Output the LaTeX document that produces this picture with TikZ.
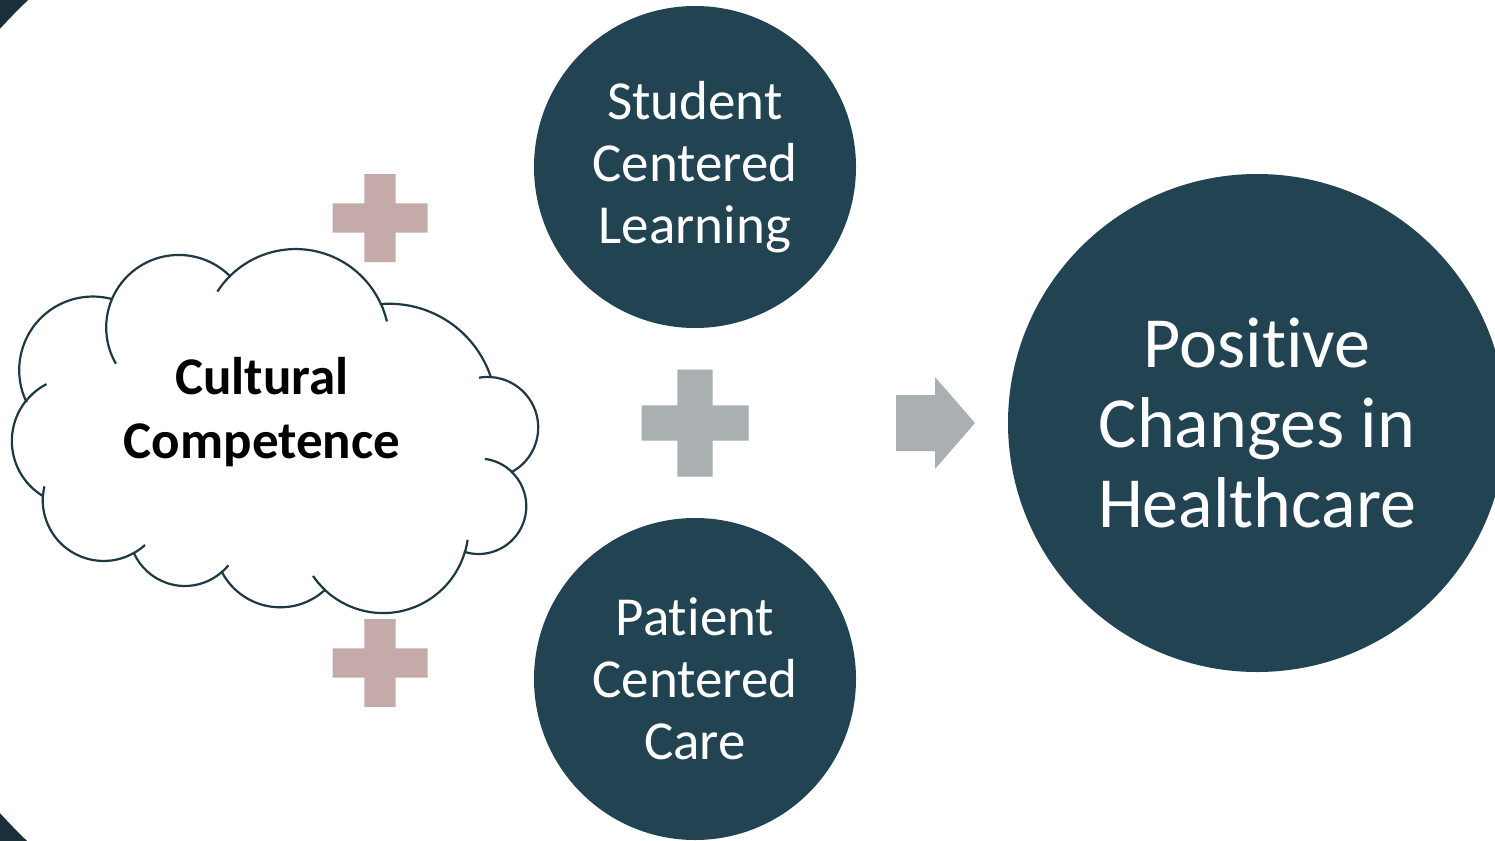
\documentclass[tikz,border=0pt]{standalone}
\usepackage{fontspec}
\setmainfont{Carlito}[Ligatures=NoCommon]
\usepackage{tikz}
\definecolor{ccteal}{RGB}{34,68,82}
\definecolor{ccframe}{RGB}{27,47,58}
\definecolor{ccline}{RGB}{30,56,68}
\definecolor{ccrose}{RGB}{196,171,170}
\definecolor{ccgrey}{RGB}{170,175,177}
\tikzset{
  bubble/.style    ={circle,fill=ccteal,text=white,align=center,inner sep=0pt},
  midbubble/.style ={bubble,minimum size=322pt,font=\fontsize{55}{62}\selectfont},
  bigbubble/.style ={bubble,minimum size=498pt,font=\fontsize{72}{80}\selectfont},
  cloudtext/.style ={align=center,font=\bfseries\fontsize{53}{64}\selectfont},
  cloudline/.style ={draw=ccline,line width=2.2pt},
  blockarrow/.style={fill=ccgrey},
  pics/crossmark/.style={code={
    \fill[pic actions] (-0.5,-0.165) -- (-0.165,-0.165) -- (-0.165,-0.5) -- (0.165,-0.5)
      -- (0.165,-0.165) -- (0.5,-0.165) -- (0.5,0.165) -- (0.165,0.165) -- (0.165,0.5)
      -- (-0.165,0.5) -- (-0.165,0.165) -- (-0.5,0.165) -- cycle;}},
}

\begin{document}
\begin{tikzpicture}[x=1pt,y=1pt]
  \useasboundingbox (0,0) rectangle (1495,-840);
  \fill[white] (0,0) rectangle (1495,-840);
  \clip (0,0) rectangle (1495,-840);

  % ---- frame piece on the left edge -------------------------------------
  \draw[ccframe,line width=20pt] ([shift={(125:592)}]430,-421)
    arc[start angle=125,end angle=235,radius=592];

  % ---- cloud: eleven puffs, clockwise from the left ---------------------
  \path[cloudline,fill=white] (26,-401)
    arc[start angle=-155.21,delta angle=-129.86,radius=73.6]
    arc[start angle=156.91,delta angle=-111.76,radius=72.6]
    arc[start angle=134.68,delta angle=-110.37,radius=93.5]
    arc[start angle=94.42,delta angle=-75.99,radius=107.2]
    arc[start angle=86.35,delta angle=-147.77,radius=50.6]
    arc[start angle=45.82,delta angle=-152.51,radius=47.76]
    arc[start angle=-16.39,delta angle=-116.85,radius=85.1]
    arc[start angle=-47.49,delta angle=-104.83,radius=66.0]
    arc[start angle=-48.53,delta angle=-107.31,radius=55.89]
    arc[start angle=-60.31,delta angle=-123.5,radius=60.95]
    arc[start angle=-121.15,delta angle=-97.4,radius=64.23]
    -- cycle;
  % inner puff strokes
  \draw[cloudline] ([shift={(-218.55:64.23)}]76.23,-441.03) arc[start angle=-218.55,end angle=-242.4,radius=64.23];
  \draw[cloudline] ([shift={(-150:72.6)}]178.79,-327.47) arc[start angle=-150,end angle=-203.09,radius=72.6];
  \draw[cloudline] ([shift={(-213:93.5)}]295.77,-342.5) arc[start angle=-213,end angle=-225.32,radius=93.5];
  \draw[cloudline] ([shift={(-335.69:93.5)}]295.77,-342.5) arc[start angle=-335.69,end angle=-347,radius=93.5];
  \draw[cloudline] ([shift={(-260:50.6)}]487.78,-427.53) arc[start angle=-260,end angle=-273.65,radius=50.6];
  \draw[cloudline] ([shift={(-277.4:47.76)}]478.72,-506.25) arc[start angle=-277.4,end angle=-314.18,radius=47.76];
  \draw[cloudline] ([shift={(-8:85.1)}]383.32,-527.97) arc[start angle=-8,end angle=-16.39,radius=85.1];
  \draw[cloudline] ([shift={(-133.24:85.1)}]383.32,-527.97) arc[start angle=-133.24,end angle=-145.7,radius=85.1];
  \draw[cloudline] ([shift={(-39:55.89)}]184.99,-530.12) arc[start angle=-39,end angle=-48.53,radius=55.89];
  \draw[cloudline] ([shift={(-47.5:60.95)}]103.81,-500.05) arc[start angle=-47.5,end angle=-60.31,radius=60.95];
  \draw[cloudline] ([shift={(-183.81:60.95)}]103.81,-500.05) arc[start angle=-183.81,end angle=-193,radius=60.95];
  \node[cloudtext] (cc) at (262,-412) {Cultural\\Competence};

  % ---- plus marks -------------------------------------------------------
  \pic[fill=ccrose,xscale=95,yscale=88] at (380,-218) {crossmark};
  \pic[fill=ccrose,xscale=95,yscale=88] at (380,-663) {crossmark};
  \pic[fill=ccgrey,xscale=107,yscale=107] at (695,-423) {crossmark};

  % ---- the two centred circles ------------------------------------------
  \node[midbubble] (scl) at (695,-167) {Student\\Centered\\Learning};
  \node[midbubble] (pcc) at (695,-679) {Patient\\Centered\\Care};

  % ---- result -----------------------------------------------------------
  \fill[blockarrow] (896,-395) -- (935,-395) -- (935,-377) -- (975,-423)
    -- (935,-469) -- (935,-451) -- (896,-451) -- cycle;
  \node[bigbubble] (pch) at (1257,-423) {Positive\\Changes in\\Healthcare};
\end{tikzpicture}
\end{document}
